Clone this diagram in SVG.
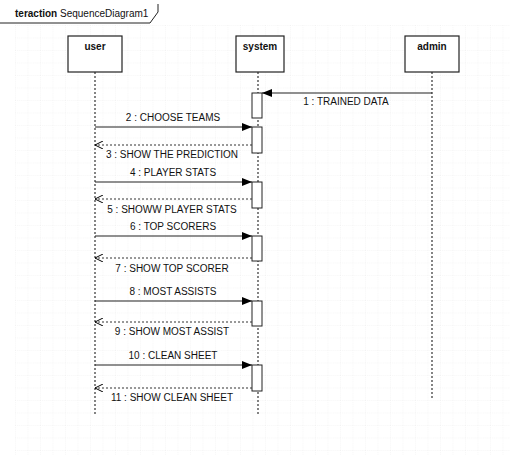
<svg xmlns="http://www.w3.org/2000/svg" width="510" height="462" viewBox="0 0 510 462">
<defs>
<pattern id="grid" width="12.5" height="12.5" patternUnits="userSpaceOnUse" x="15" y="25">
<path d="M0 0H12.5M0 0V12.5" fill="none" stroke="#e4e4e4" stroke-width="0.6" stroke-dasharray="1 1"/>
</pattern>
<marker id="fill" markerWidth="10" markerHeight="8" refX="10" refY="4" orient="auto" markerUnits="userSpaceOnUse">
<path d="M0 0L10 4L0 8Z" fill="#000"/>
</marker>
<marker id="open" markerWidth="8" markerHeight="8" refX="8" refY="4" orient="auto" markerUnits="userSpaceOnUse">
<path d="M0 0L8 4L0 8" fill="none" stroke="#000" stroke-width="1"/>
</marker>
</defs>
<style>
text{font-family:"Liberation Sans",Arial,sans-serif;font-size:10px;fill:#111}
.b{font-weight:bold}
.box{fill:#fff;stroke:#222;stroke-width:1.2}
.life{stroke:#333;stroke-width:1.2;stroke-dasharray:2 2;fill:none}
.act{fill:#fff;stroke:#222;stroke-width:1}
.msg{stroke:#222;stroke-width:1.2;fill:none;marker-end:url(#fill)}
.ret{stroke:#333;stroke-width:1;stroke-dasharray:2 2;fill:none;marker-end:url(#open)}
</style>
<rect x="0" y="0" width="510" height="462" fill="#fff"/>
<rect x="15" y="25" width="495" height="430" fill="url(#grid)"/>
<g id="frame">
<path d="M0 23H150L158 12V4" fill="none" stroke="#222" stroke-width="1"/>
<text x="15" y="17"><tspan class="b">teraction</tspan> SequenceDiagram1</text>
</g>
<g id="lifelines">
<line class="life" x1="95" y1="72" x2="95" y2="414"/>
<line class="life" x1="258" y1="72" x2="258" y2="414"/>
<line class="life" x1="432" y1="72" x2="432" y2="398"/>
</g>
<g id="user"><rect class="box" x="68" y="36" width="54" height="36"/><text class="b" x="95" y="50" text-anchor="middle">user</text></g>
<g id="system"><rect class="box" x="236" y="36" width="48" height="36"/><text class="b" x="260" y="50" text-anchor="middle">system</text></g>
<g id="admin"><rect class="box" x="405" y="36" width="54" height="36"/><text class="b" x="432" y="50" text-anchor="middle">admin</text></g>
<g id="activations">
<rect class="act" x="252" y="93" width="10" height="25"/>
<rect class="act" x="252" y="127" width="10" height="26"/>
<rect class="act" x="252" y="182" width="10" height="26"/>
<rect class="act" x="252" y="236" width="10" height="25"/>
<rect class="act" x="252" y="301" width="10" height="25"/>
<rect class="act" x="252" y="365" width="10" height="26"/>
</g>
<g id="connectors">
<line class="msg" x1="432" y1="93" x2="262" y2="93"/>
<line class="msg" x1="95" y1="127" x2="252" y2="127"/>
<line class="ret" x1="252" y1="145" x2="95" y2="145"/>
<line class="msg" x1="95" y1="182" x2="252" y2="182"/>
<line class="ret" x1="252" y1="199" x2="95" y2="199"/>
<line class="msg" x1="95" y1="236" x2="252" y2="236"/>
<line class="ret" x1="252" y1="258" x2="95" y2="258"/>
<line class="msg" x1="95" y1="301" x2="252" y2="301"/>
<line class="ret" x1="252" y1="322" x2="95" y2="322"/>
<line class="msg" x1="95" y1="365" x2="252" y2="365"/>
<line class="ret" x1="252" y1="388" x2="95" y2="388"/>
</g>
<g id="labels">
<text x="346" y="105" text-anchor="middle">1 : TRAINED DATA</text>
<text x="173" y="121" text-anchor="middle">2 : CHOOSE TEAMS</text>
<text x="172" y="158" text-anchor="middle">3 : SHOW THE PREDICTION</text>
<text x="173" y="176" text-anchor="middle">4 : PLAYER STATS</text>
<text x="172" y="213" text-anchor="middle">5 : SHOWW PLAYER STATS</text>
<text x="173" y="230" text-anchor="middle">6 : TOP SCORERS</text>
<text x="172" y="272" text-anchor="middle">7 : SHOW TOP SCORER</text>
<text x="173" y="295" text-anchor="middle">8 : MOST ASSISTS</text>
<text x="172" y="335" text-anchor="middle">9 : SHOW MOST ASSIST</text>
<text x="173" y="359" text-anchor="middle">10 : CLEAN SHEET</text>
<text x="172" y="401" text-anchor="middle">11 : SHOW CLEAN SHEET</text>
</g>
</svg>
